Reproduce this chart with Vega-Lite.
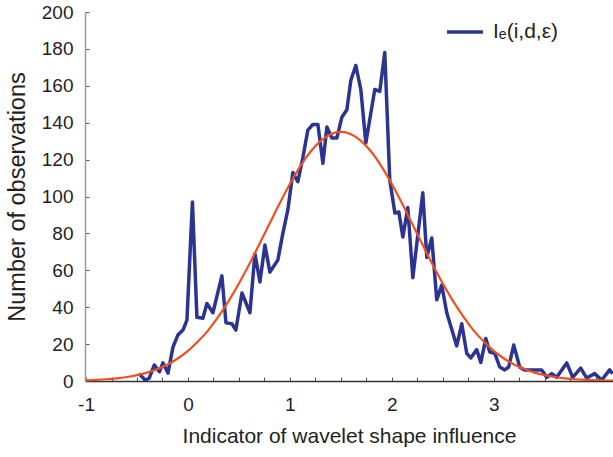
{
  "$schema": "https://vega.github.io/schema/vega-lite/v6.json",
  "width": 528,
  "height": 369,
  "autosize": {"type": "none"},
  "padding": {"left": 85, "top": 12, "right": 0, "bottom": 76},
  "background": "white",
  "config": {
    "view": {"stroke": null},
    "font": "Liberation Sans",
    "axis": {"grid": false, "labelFont": "Liberation Sans", "titleFont": "Liberation Sans", "labelColor": "#231f20", "titleColor": "#231f20", "titleFontWeight": "normal", "labelFontSize": 19}
  },
  "datasets": {
    "obs": [
      {"x": -0.48, "y": 4}, {"x": -0.42, "y": 0.5}, {"x": -0.38, "y": 1.5}, {"x": -0.33, "y": 8.7},
      {"x": -0.28, "y": 5}, {"x": -0.245, "y": 9.8}, {"x": -0.196, "y": 4.3}, {"x": -0.147, "y": 18.4},
      {"x": -0.098, "y": 25}, {"x": -0.049, "y": 27.6}, {"x": -0.01, "y": 33}, {"x": 0.044, "y": 97},
      {"x": 0.088, "y": 34.5}, {"x": 0.147, "y": 34}, {"x": 0.186, "y": 42}, {"x": 0.245, "y": 37},
      {"x": 0.333, "y": 57}, {"x": 0.373, "y": 31.5}, {"x": 0.431, "y": 31}, {"x": 0.47, "y": 27.6},
      {"x": 0.53, "y": 47.7}, {"x": 0.608, "y": 37}, {"x": 0.657, "y": 69}, {"x": 0.706, "y": 53.7},
      {"x": 0.755, "y": 73.7}, {"x": 0.804, "y": 59}, {"x": 0.882, "y": 65.6}, {"x": 0.931, "y": 80},
      {"x": 0.98, "y": 92.7}, {"x": 1.029, "y": 113}, {"x": 1.078, "y": 108}, {"x": 1.127, "y": 121},
      {"x": 1.176, "y": 136}, {"x": 1.225, "y": 139}, {"x": 1.275, "y": 139}, {"x": 1.324, "y": 118},
      {"x": 1.363, "y": 137.7}, {"x": 1.412, "y": 131.7}, {"x": 1.461, "y": 131.7}, {"x": 1.51, "y": 143},
      {"x": 1.559, "y": 147}, {"x": 1.598, "y": 163}, {"x": 1.647, "y": 171}, {"x": 1.696, "y": 158},
      {"x": 1.745, "y": 129}, {"x": 1.833, "y": 158}, {"x": 1.882, "y": 157}, {"x": 1.931, "y": 178},
      {"x": 1.98, "y": 109}, {"x": 2.03, "y": 91}, {"x": 2.069, "y": 91.6}, {"x": 2.108, "y": 78},
      {"x": 2.157, "y": 94}, {"x": 2.206, "y": 56}, {"x": 2.304, "y": 102}, {"x": 2.343, "y": 67},
      {"x": 2.392, "y": 77.5}, {"x": 2.441, "y": 44}, {"x": 2.49, "y": 52}, {"x": 2.539, "y": 37},
      {"x": 2.637, "y": 19}, {"x": 2.686, "y": 31}, {"x": 2.735, "y": 15}, {"x": 2.775, "y": 12.5},
      {"x": 2.833, "y": 17}, {"x": 2.873, "y": 10}, {"x": 2.922, "y": 23}, {"x": 2.961, "y": 15.7},
      {"x": 3.01, "y": 15}, {"x": 3.059, "y": 7.6}, {"x": 3.108, "y": 6}, {"x": 3.147, "y": 7.6},
      {"x": 3.196, "y": 19.5}, {"x": 3.255, "y": 7.5}, {"x": 3.304, "y": 6}, {"x": 3.353, "y": 6},
      {"x": 3.41, "y": 6}, {"x": 3.47, "y": 6}, {"x": 3.52, "y": 2}, {"x": 3.569, "y": 4},
      {"x": 3.618, "y": 2}, {"x": 3.716, "y": 9.8}, {"x": 3.775, "y": 2}, {"x": 3.853, "y": 7},
      {"x": 3.912, "y": 1.6}, {"x": 3.99, "y": 4}, {"x": 4.059, "y": 0.5}, {"x": 4.137, "y": 6},
      {"x": 4.167, "y": 4}
    ],
    "fit": [
      {"x": -1.0, "y": 0.38}, {"x": -0.9, "y": 0.61}, {"x": -0.8, "y": 0.94}, {"x": -0.7, "y": 1.44},
      {"x": -0.6, "y": 2.15}, {"x": -0.5, "y": 3.16}, {"x": -0.4, "y": 4.56}, {"x": -0.3, "y": 6.46},
      {"x": -0.2, "y": 8.97}, {"x": -0.1, "y": 12.2}, {"x": 0.0, "y": 16.3}, {"x": 0.1, "y": 21.5},
      {"x": 0.2, "y": 27.6}, {"x": 0.3, "y": 35.0}, {"x": 0.4, "y": 43.4}, {"x": 0.5, "y": 52.8},
      {"x": 0.6, "y": 63.1}, {"x": 0.7, "y": 74.1}, {"x": 0.8, "y": 85.2}, {"x": 0.9, "y": 96.3},
      {"x": 1.0, "y": 106.8}, {"x": 1.1, "y": 116.2}, {"x": 1.2, "y": 124.1}, {"x": 1.3, "y": 130.0},
      {"x": 1.4, "y": 133.7}, {"x": 1.5, "y": 135.0}, {"x": 1.6, "y": 133.7}, {"x": 1.7, "y": 130.0},
      {"x": 1.8, "y": 124.1}, {"x": 1.9, "y": 116.2}, {"x": 2.0, "y": 106.8}, {"x": 2.1, "y": 96.3},
      {"x": 2.2, "y": 85.2}, {"x": 2.3, "y": 74.1}, {"x": 2.4, "y": 63.1}, {"x": 2.5, "y": 52.8},
      {"x": 2.6, "y": 43.4}, {"x": 2.7, "y": 35.0}, {"x": 2.8, "y": 27.6}, {"x": 2.9, "y": 21.5},
      {"x": 3.0, "y": 16.3}, {"x": 3.1, "y": 12.2}, {"x": 3.2, "y": 8.97}, {"x": 3.3, "y": 6.46},
      {"x": 3.4, "y": 4.56}, {"x": 3.5, "y": 3.16}, {"x": 3.6, "y": 2.15}, {"x": 3.7, "y": 1.44},
      {"x": 3.8, "y": 0.94}, {"x": 3.9, "y": 0.61}, {"x": 4.0, "y": 0.38}, {"x": 4.1, "y": 0.24},
      {"x": 4.2, "y": 0.15}
    ]
  },
  "encoding": {
    "x": {
      "field": "x", "type": "quantitative",
      "scale": {"domain": [-1.01, 4.17], "nice": false, "zero": false},
      "axis": {
        "title": "Indicator of wavelet shape influence",
        "titleFontSize": 21,
        "values": [-1, -0.75, -0.5, -0.25, 0, 0.25, 0.5, 0.75, 1, 1.25, 1.5, 1.75, 2, 2.25, 2.5, 2.75, 3, 3.25, 3.5, 3.75, 4],
        "labelExpr": "(datum.value % 1 == 0 && datum.value <= 3) ? toString(datum.value) : ''",
        "tickSize": -4, "tickColor": "#555", "domainColor": "#333", "domainWidth": 1.5,
        "labelPadding": 18, "titlePadding": 11, "labelFlush": false
      }
    },
    "y": {
      "field": "y", "type": "quantitative",
      "scale": {"domain": [0, 200], "nice": false},
      "axis": {
        "title": "Number of observations",
        "titleFontSize": 23.5,
        "values": [0, 20, 40, 60, 80, 100, 120, 140, 160, 180, 200],
        "tickSize": -4, "tickColor": "#555", "domainColor": "#999", "domainWidth": 1.5,
        "labelPadding": 16, "titlePadding": 12, "labelFlush": false
      }
    }
  },
  "layer": [
    {
      "data": {"name": "obs"},
      "mark": {"type": "line", "strokeWidth": 3.5, "clip": true, "strokeJoin": "round"},
      "encoding": {
        "color": {
          "datum": "Iₑ(i,d,ε)",
          "scale": {"range": ["#2b3591"]},
          "legend": {
            "title": null, "orient": "none", "legendX": 360, "legendY": 0,
            "symbolType": "stroke", "symbolStrokeWidth": 3.5, "symbolSize": 1300,
            "labelFontSize": 21, "labelFont": "Liberation Sans", "labelColor": "#231f20", "labelOffset": 8
          }
        }
      }
    },
    {
      "data": {"name": "fit"},
      "mark": {"type": "line", "strokeWidth": 2.2, "color": "#f0501e", "clip": true, "interpolate": "monotone"}
    }
  ]
}
